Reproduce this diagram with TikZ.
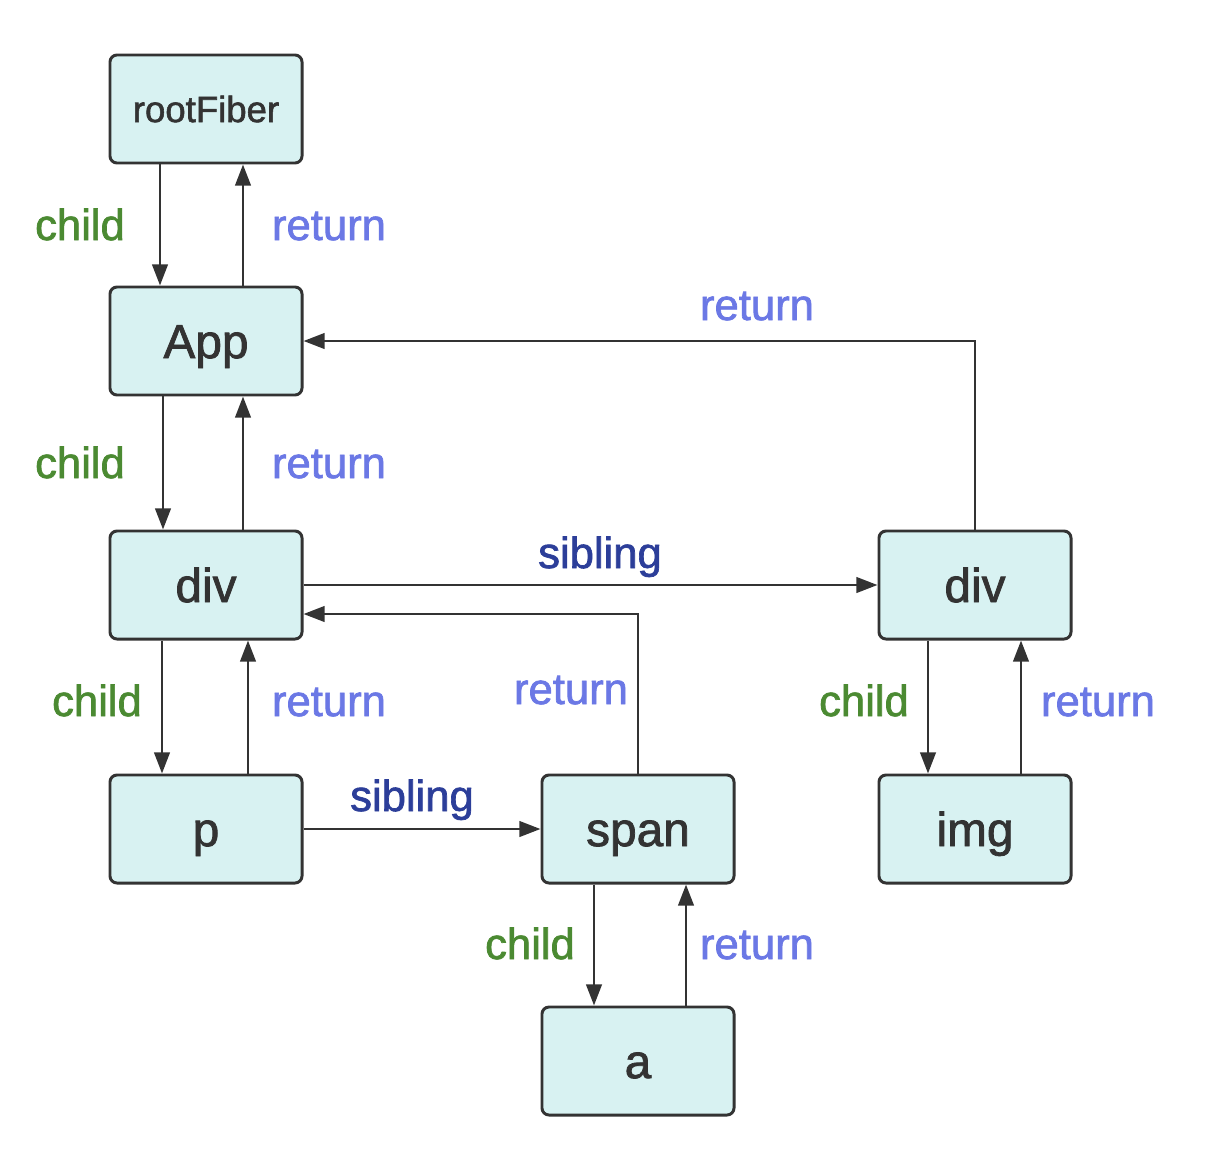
\documentclass[tikz,border=0pt]{standalone}
\usepackage{fontspec}
\setmainfont{Liberation Sans}
\newfontfamily\medfont{Liberation Sans}[BoldFont={Liberation Sans}, BoldFeatures={FakeBold=1.6}]
\usetikzlibrary{arrows.meta}
\definecolor{boxfill}{HTML}{D8F2F2}
\definecolor{edgegray}{HTML}{333333}
\definecolor{childgreen}{HTML}{4B8A32}
\definecolor{returnblue}{HTML}{6B78E5}
\definecolor{siblingblue}{HTML}{2C3E99}
\begin{document}
\begin{tikzpicture}[x=0.025cm, y=-0.025cm,
  fiber/.style={draw=edgegray, line width=2.1pt, fill=boxfill, rounded corners=5pt,
    minimum width=4.8cm, minimum height=2.7cm, inner sep=0pt, text=edgegray,
    text height=24.3pt, text depth=0pt,
    font=\medfont\bfseries\fontsize{34}{34}\selectfont},
  link/.style={draw=edgegray, line width=1.9pt, -{Triangle[length=15pt,width=11pt]}},
  lbl/.style={anchor=base, font=\medfont\bfseries\fontsize{31}{31}\selectfont},
  childlbl/.style={lbl, text=childgreen},
  returnlbl/.style={lbl, text=returnblue},
  siblinglbl/.style={lbl, text=siblingblue}]
  \useasboundingbox (0,0) rectangle (1210,1152);
  % fiber nodes
  \node[fiber, text height=18.6pt, font=\medfont\bfseries\fontsize{26}{26}\selectfont] (root) at (206,109) {rootFiber};
  \node[fiber] (app) at (206,341) {App};
  \node[fiber] (divA) at (206,585) {div};
  \node[fiber] (p) at (206,829) {p};
  \node[fiber] (span) at (638,829) {span};
  \node[fiber] (a) at (638,1061) {a};
  \node[fiber] (divB) at (975,585) {div};
  \node[fiber] (img) at (975,829) {img};
  % child / return pairs
  \draw[link] (root.south -| 160,0) -- (app.north -| 160,0);
  \draw[link] (app.north -| 243,0) -- (root.south -| 243,0);
  \draw[link] (app.south -| 163,0) -- (divA.north -| 163,0);
  \draw[link] (divA.north -| 243,0) -- (app.south -| 243,0);
  \draw[link] (divA.south -| 162,0) -- (p.north -| 162,0);
  \draw[link] (p.north -| 248,0) -- (divA.south -| 248,0);
  \draw[link] (span.south -| 594,0) -- (a.north -| 594,0);
  \draw[link] (a.north -| 686,0) -- (span.south -| 686,0);
  \draw[link] (divB.south -| 928,0) -- (img.north -| 928,0);
  \draw[link] (img.north -| 1021,0) -- (divB.south -| 1021,0);
  % siblings and long returns
  \draw[link] (divA.east) -- (divB.west);
  \draw[link] (p.east) -- (span.west);
  \draw[link] (span.north) |- (divA.east |- 0,614);
  \draw[link] (divB.north) |- (app.east);
  % labels
  \node[childlbl] (c1) at (80,240) {child};
  \node[returnlbl] (r1) at (329,240) {return};
  \node[childlbl] (c2) at (80,478) {child};
  \node[returnlbl] (r2) at (329,478) {return};
  \node[childlbl] (c3) at (97,716) {child};
  \node[returnlbl] (r3) at (329,716) {return};
  \node[childlbl] (c4) at (530,959) {child};
  \node[returnlbl] (r4) at (757,959) {return};
  \node[childlbl] (c5) at (864,716) {child};
  \node[returnlbl] (r5) at (1098,716) {return};
  \node[returnlbl] (r6) at (571,704) {return};
  \node[returnlbl] (r7) at (757,320) {return};
  \node[siblinglbl] (s1) at (600,568) {sibling};
  \node[siblinglbl] (s2) at (412,811) {sibling};
\end{tikzpicture}
\end{document}
